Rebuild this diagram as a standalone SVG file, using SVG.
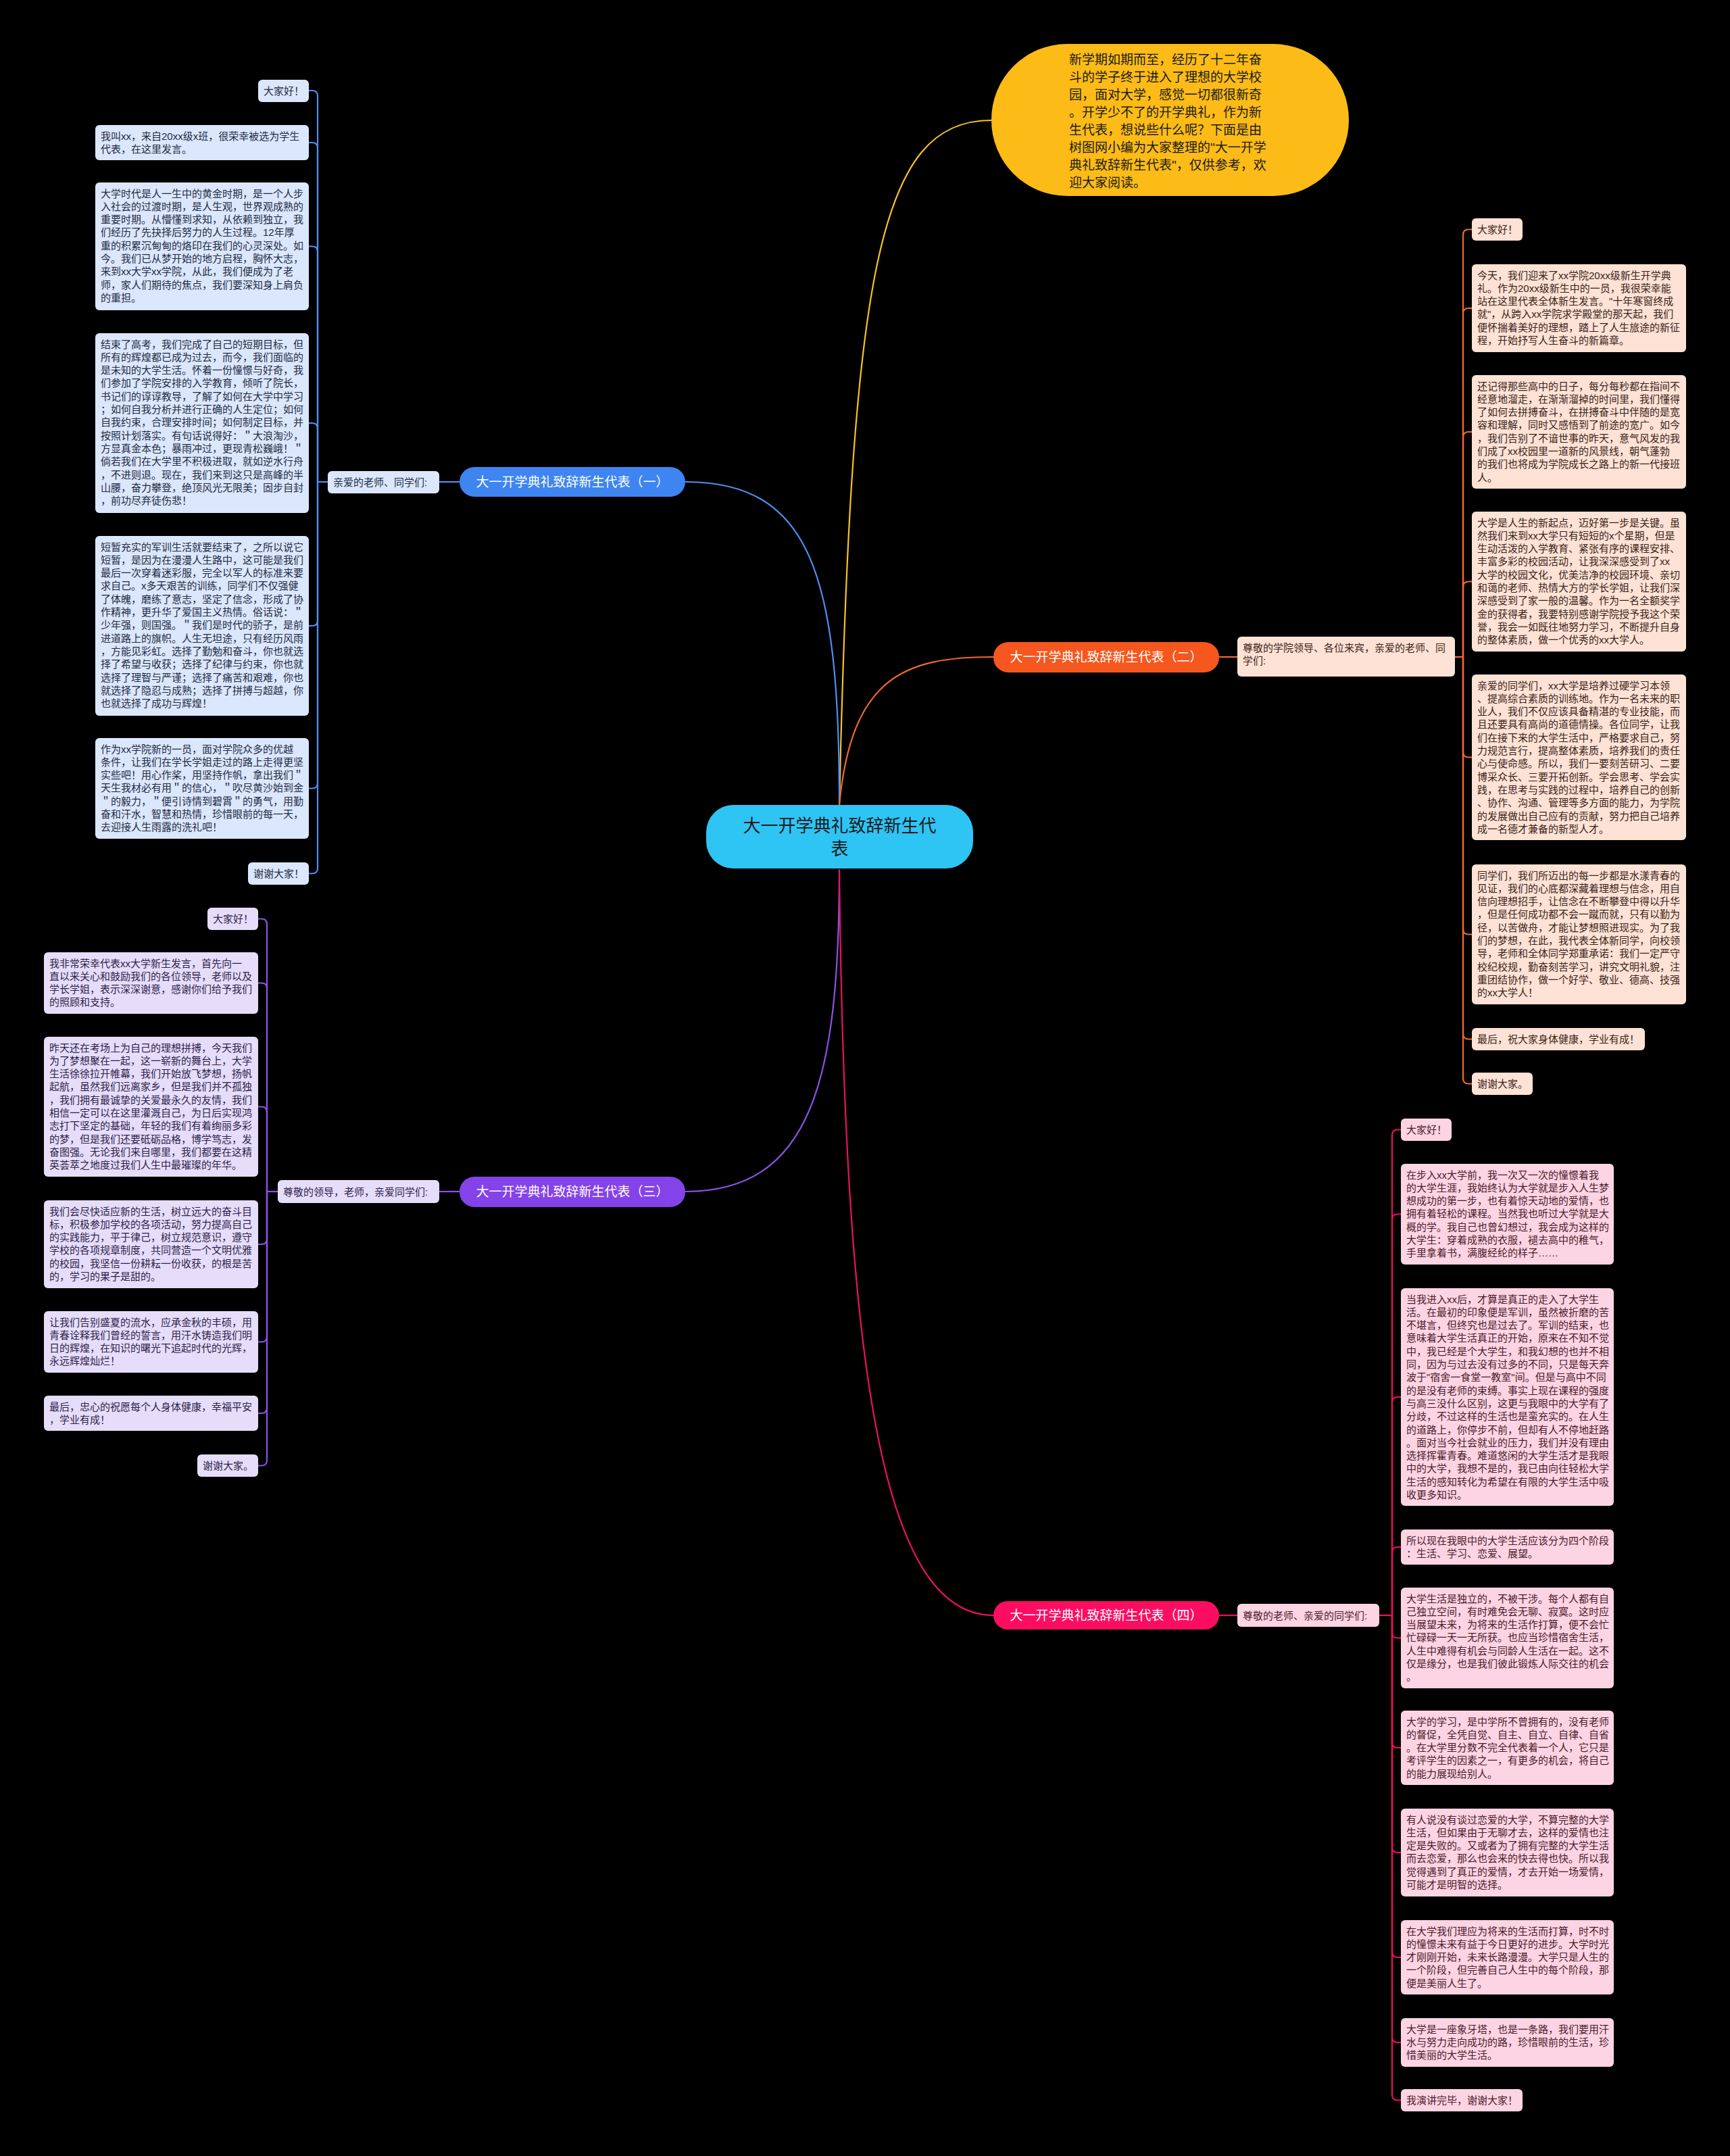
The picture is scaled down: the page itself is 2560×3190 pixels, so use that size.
<svg xmlns="http://www.w3.org/2000/svg" width="2560" height="3190" viewBox="0 0 2560 3190">
<style>
text{font-family:"Liberation Sans","Noto Sans CJK SC",sans-serif;}
.t{font-size:15px;}
.br{font-size:19px;fill:#ffffff;}
.lb{fill:#DBE7FC}.tb{fill:#1E2A44}
.lo{fill:#FDE2D5}.to{fill:#3A2218}
.lp{fill:#E6DDFA}.tp{fill:#2D1F4A}
.lk{fill:#FDD4E3}.tk{fill:#4A1A2A}
.cb{fill:none;stroke:#4F8EF0;stroke-width:2.2}
.co{fill:none;stroke:#F06A2A;stroke-width:2.2}
.cp{fill:none;stroke:#8A52E6;stroke-width:2.2}
.ck{fill:none;stroke:#E8125E;stroke-width:2.2}
.cy{fill:none;stroke:#F7C325;stroke-width:2.2}
</style>
<rect x="0" y="0" width="2560" height="3190" fill="#000000"/>

<g id="connectors">
<path class="cy" d="M1242 1191 C1260 400,1300 178,1467 178"/>
<path class="cb" d="M1242 1191 C1242 850,1200 713,1014 713"/>
<path class="co" d="M1242 1191 C1260 1000,1340 972,1470 972"/>
<path class="cp" d="M1242 1286 C1242 1600,1200 1763,1014 1763"/>
<path class="ck" d="M1242 1286 C1250 2000,1300 2390,1470 2390"/>
<path class="cb" d="M680 713 H650"/>
<path class="co" d="M1804 972 H1831"/>
<path class="cp" d="M680 1763 H650"/>
<path class="ck" d="M1804 2390 H1831"/>
<!-- branch 1 bracket -->
<path class="cb" d="M485 713 H470"/>
<path class="cb" d="M470 713 V142 Q470 134 462 134 H457"/>
<path class="cb" d="M470 713 V219 Q470 211 462 211 H457"/>
<path class="cb" d="M470 713 V372.5 Q470 364.5 462 364.5 H457"/>
<path class="cb" d="M470 713 V634 Q470 626 462 626 H457"/>
<path class="cb" d="M470 713 V918 Q470 926 462 926 H457"/>
<path class="cb" d="M470 713 V1158.5 Q470 1166.5 462 1166.5 H457"/>
<path class="cb" d="M470 713 V1284.5 Q470 1292.5 462 1292.5 H457"/>
<!-- branch 3 bracket -->
<path class="cp" d="M411 1763 H395"/>
<path class="cp" d="M395 1763 V1367.5 Q395 1359.5 387 1359.5 H382"/>
<path class="cp" d="M395 1763 V1462.5 Q395 1454.5 387 1454.5 H382"/>
<path class="cp" d="M395 1763 V1645.5 Q395 1637.5 387 1637.5 H382"/>
<path class="cp" d="M395 1763 V1833 Q395 1841 387 1841 H382"/>
<path class="cp" d="M395 1763 V1977.5 Q395 1985.5 387 1985.5 H382"/>
<path class="cp" d="M395 1763 V2083 Q395 2091 387 2091 H382"/>
<path class="cp" d="M395 1763 V2160.5 Q395 2168.5 387 2168.5 H382"/>
<!-- branch 2 bracket -->
<path class="co" d="M2153 972 H2165"/>
<path class="co" d="M2165 972 V347.5 Q2165 339.5 2173 339.5 H2178"/>
<path class="co" d="M2165 972 V464 Q2165 456 2173 456 H2178"/>
<path class="co" d="M2165 972 V647 Q2165 639 2173 639 H2178"/>
<path class="co" d="M2165 972 V868.5 Q2165 860.5 2173 860.5 H2178"/>
<path class="co" d="M2165 972 V1112.5 Q2165 1120.5 2173 1120.5 H2178"/>
<path class="co" d="M2165 972 V1374.5 Q2165 1382.5 2173 1382.5 H2178"/>
<path class="co" d="M2165 972 V1529.5 Q2165 1537.5 2173 1537.5 H2178"/>
<path class="co" d="M2165 972 V1595.5 Q2165 1603.5 2173 1603.5 H2178"/>
<!-- branch 4 bracket -->
<path class="ck" d="M2041 2390 H2060"/>
<path class="ck" d="M2060 2390 V1679.5 Q2060 1671.5 2068 1671.5 H2073"/>
<path class="ck" d="M2060 2390 V1804.5 Q2060 1796.5 2068 1796.5 H2073"/>
<path class="ck" d="M2060 2390 V2075 Q2060 2067 2068 2067 H2073"/>
<path class="ck" d="M2060 2390 V2297 Q2060 2289 2068 2289 H2073"/>
<path class="ck" d="M2060 2390 V2415.5 Q2060 2423.5 2068 2423.5 H2073"/>
<path class="ck" d="M2060 2390 V2578 Q2060 2586 2068 2586 H2073"/>
<path class="ck" d="M2060 2390 V2733 Q2060 2741 2068 2741 H2073"/>
<path class="ck" d="M2060 2390 V2888 Q2060 2896 2068 2896 H2073"/>
<path class="ck" d="M2060 2390 V3014 Q2060 3022 2068 3022 H2073"/>
<path class="ck" d="M2060 2390 V3099.5 Q2060 3107.5 2068 3107.5 H2073"/>
</g>

<g id="center">
<rect x="1045" y="1191" width="395" height="94" rx="40" fill="#2EC4F4"/>
<text x="1242.5" y="1231" font-size="26" fill="#1A1A1A" text-anchor="middle">大一开学典礼致辞新生代<tspan x="1242.5" dy="34">表</tspan></text>
</g>

<g id="intro">
<rect x="1467" y="65" width="529" height="225" rx="112" fill="#FCBB16"/>
<text x="1582" y="95" font-size="19" fill="#1A1A1A">新学期如期而至，经历了十二年奋<tspan x="1582" dy="26">斗的学子终于进入了理想的大学校</tspan><tspan x="1582" dy="26">园，面对大学，感觉一切都很新奇</tspan><tspan x="1582" dy="26">。开学少不了的开学典礼，作为新</tspan><tspan x="1582" dy="26">生代表，想说些什么呢？下面是由</tspan><tspan x="1582" dy="26">树图网小编为大家整理的"大一开学</tspan><tspan x="1582" dy="26">典礼致辞新生代表"，仅供参考，欢</tspan><tspan x="1582" dy="26">迎大家阅读。</tspan></text>
</g>

<g id="branch1">
<rect x="680" y="691" width="334" height="44" rx="22" fill="#3E85F2"/>
<text class="br" x="847" y="720" text-anchor="middle">大一开学典礼致辞新生代表（一）</text>
</g>
<g id="branch1-label">
<rect class="lb" x="485" y="697" width="165" height="33" rx="6"/>
<text class="t tb" x="493" y="718.5">亲爱的老师、同学们:</text>
</g>
<g id="b1-n1"><rect class="lb" x="382" y="118" width="75" height="33" rx="6"/><text class="t tb" x="390" y="139.5">大家好！</text></g>
<g id="b1-n2"><rect class="lb" x="141" y="185" width="316" height="52" rx="6"/><text class="t tb" x="149" y="206.5">我叫xx，来自20xx级x班，很荣幸被选为学生<tspan x="149" dy="19.3">代表，在这里发言。</tspan></text></g>
<g id="b1-n3"><rect class="lb" x="141" y="270" width="316" height="189" rx="6"/><text class="t tb" x="149" y="291.5">大学时代是人一生中的黄金时期，是一个人步<tspan x="149" dy="19.3">入社会的过渡时期，是人生观，世界观成熟的</tspan><tspan x="149" dy="19.3">重要时期。从懵懂到求知，从依赖到独立，我</tspan><tspan x="149" dy="19.3">们经历了先抉择后努力的人生过程。12年厚</tspan><tspan x="149" dy="19.3">重的积累沉甸甸的烙印在我们的心灵深处。如</tspan><tspan x="149" dy="19.3">今。我们已从梦开始的地方启程，胸怀大志，</tspan><tspan x="149" dy="19.3">来到xx大学xx学院，从此，我们便成为了老</tspan><tspan x="149" dy="19.3">师，家人们期待的焦点，我们要深知身上肩负</tspan><tspan x="149" dy="19.3">的重担。</tspan></text></g>
<g id="b1-n4"><rect class="lb" x="141" y="493" width="316" height="266" rx="6"/><text class="t tb" x="149" y="514.5">结束了高考，我们完成了自己的短期目标，但<tspan x="149" dy="19.3">所有的辉煌都已成为过去，而今，我们面临的</tspan><tspan x="149" dy="19.3">是未知的大学生活。怀着一份憧憬与好奇，我</tspan><tspan x="149" dy="19.3">们参加了学院安排的入学教育，倾听了院长，</tspan><tspan x="149" dy="19.3">书记们的谆谆教导，了解了如何在大学中学习</tspan><tspan x="149" dy="19.3">；如何自我分析并进行正确的人生定位；如何</tspan><tspan x="149" dy="19.3">自我约束，合理安排时间；如何制定目标，并</tspan><tspan x="149" dy="19.3">按照计划落实。有句话说得好：＂大浪淘沙，</tspan><tspan x="149" dy="19.3">方显真金本色；暴雨冲过，更现青松巍峨！＂</tspan><tspan x="149" dy="19.3">倘若我们在大学里不积极进取，就如逆水行舟</tspan><tspan x="149" dy="19.3">，不进则退。现在，我们来到这只是高峰的半</tspan><tspan x="149" dy="19.3">山腰，奋力攀登，绝顶风光无限美；固步自封</tspan><tspan x="149" dy="19.3">，前功尽弃徒伤悲！</tspan></text></g>
<g id="b1-n5"><rect class="lb" x="141" y="793" width="316" height="266" rx="6"/><text class="t tb" x="149" y="814.5">短暂充实的军训生活就要结束了，之所以说它<tspan x="149" dy="19.3">短暂，是因为在漫漫人生路中，这可能是我们</tspan><tspan x="149" dy="19.3">最后一次穿着迷彩服，完全以军人的标准来要</tspan><tspan x="149" dy="19.3">求自己。x多天艰苦的训练，同学们不仅强健</tspan><tspan x="149" dy="19.3">了体魄，磨练了意志，坚定了信念，形成了协</tspan><tspan x="149" dy="19.3">作精神，更升华了爱国主义热情。俗话说：＂</tspan><tspan x="149" dy="19.3">少年强，则国强。＂我们是时代的骄子，是前</tspan><tspan x="149" dy="19.3">进道路上的旗帜。人生无坦途，只有经历风雨</tspan><tspan x="149" dy="19.3">，方能见彩虹。选择了勤勉和奋斗，你也就选</tspan><tspan x="149" dy="19.3">择了希望与收获；选择了纪律与约束，你也就</tspan><tspan x="149" dy="19.3">选择了理智与严谨；选择了痛苦和艰难，你也</tspan><tspan x="149" dy="19.3">就选择了隐忍与成熟；选择了拼搏与超越，你</tspan><tspan x="149" dy="19.3">也就选择了成功与辉煌！</tspan></text></g>
<g id="b1-n6"><rect class="lb" x="141" y="1092" width="316" height="149" rx="6"/><text class="t tb" x="149" y="1113.5">作为xx学院新的一员，面对学院众多的优越<tspan x="149" dy="19.3">条件，让我们在学长学姐走过的路上走得更坚</tspan><tspan x="149" dy="19.3">实些吧！用心作桨，用坚持作帆，拿出我们＂</tspan><tspan x="149" dy="19.3">天生我材必有用＂的信心，＂吹尽黄沙始到金</tspan><tspan x="149" dy="19.3">＂的毅力，＂便引诗情到碧霄＂的勇气，用勤</tspan><tspan x="149" dy="19.3">奋和汗水，智慧和热情，珍惜眼前的每一天，</tspan><tspan x="149" dy="19.3">去迎接人生雨露的洗礼吧！</tspan></text></g>
<g id="b1-n7"><rect class="lb" x="367" y="1276" width="90" height="33" rx="6"/><text class="t tb" x="375" y="1297.5">谢谢大家！</text></g>

<g id="branch2">
<rect x="1470" y="950" width="334" height="45" rx="22" fill="#F5571E"/>
<text class="br" x="1637" y="979" text-anchor="middle">大一开学典礼致辞新生代表（二）</text>
</g>
<g id="branch2-label">
<rect class="lo" x="1831" y="942" width="322" height="59" rx="6"/>
<text class="t to" x="1839" y="963.5">尊敬的学院领导、各位来宾，亲爱的老师、同<tspan x="1839" dy="19.3">学们:</tspan></text>
</g>
<g id="b2-n1"><rect class="lo" x="2178" y="323" width="75" height="33" rx="6"/><text class="t to" x="2186" y="344.5">大家好！</text></g>
<g id="b2-n2"><rect class="lo" x="2178" y="391" width="317" height="130" rx="6"/><text class="t to" x="2186" y="412.5">今天，我们迎来了xx学院20xx级新生开学典<tspan x="2186" dy="19.3">礼。作为20xx级新生中的一员，我很荣幸能</tspan><tspan x="2186" dy="19.3">站在这里代表全体新生发言。"十年寒窗终成</tspan><tspan x="2186" dy="19.3">就"，从跨入xx学院求学殿堂的那天起，我们</tspan><tspan x="2186" dy="19.3">便怀揣着美好的理想，踏上了人生旅途的新征</tspan><tspan x="2186" dy="19.3">程，开始抒写人生奋斗的新篇章。</tspan></text></g>
<g id="b2-n3"><rect class="lo" x="2178" y="555" width="317" height="168" rx="6"/><text class="t to" x="2186" y="576.5">还记得那些高中的日子，每分每秒都在指间不<tspan x="2186" dy="19.3">经意地溜走，在渐渐溜掉的时间里，我们懂得</tspan><tspan x="2186" dy="19.3">了如何去拼搏奋斗，在拼搏奋斗中伴随的是宽</tspan><tspan x="2186" dy="19.3">容和理解，同时又感悟到了前途的宽广。如今</tspan><tspan x="2186" dy="19.3">，我们告别了不谙世事的昨天，意气风发的我</tspan><tspan x="2186" dy="19.3">们成了xx校园里一道新的风景线，朝气蓬勃</tspan><tspan x="2186" dy="19.3">的我们也将成为学院成长之路上的新一代接班</tspan><tspan x="2186" dy="19.3">人。</tspan></text></g>
<g id="b2-n4"><rect class="lo" x="2178" y="757" width="317" height="207" rx="6"/><text class="t to" x="2186" y="778.5">大学是人生的新起点，迈好第一步是关键。虽<tspan x="2186" dy="19.3">然我们来到xx大学只有短短的x个星期，但是</tspan><tspan x="2186" dy="19.3">生动活泼的入学教育、紧张有序的课程安排、</tspan><tspan x="2186" dy="19.3">丰富多彩的校园活动，让我深深感受到了xx</tspan><tspan x="2186" dy="19.3">大学的校园文化，优美洁净的校园环境、亲切</tspan><tspan x="2186" dy="19.3">和蔼的老师、热情大方的学长学姐，让我们深</tspan><tspan x="2186" dy="19.3">深感受到了家一般的温馨。作为一名全额奖学</tspan><tspan x="2186" dy="19.3">金的获得者，我要特别感谢学院授予我这个荣</tspan><tspan x="2186" dy="19.3">誉，我会一如既往地努力学习，不断提升自身</tspan><tspan x="2186" dy="19.3">的整体素质，做一个优秀的xx大学人。</tspan></text></g>
<g id="b2-n5"><rect class="lo" x="2178" y="998" width="317" height="245" rx="6"/><text class="t to" x="2186" y="1019.5">亲爱的同学们，xx大学是培养过硬学习本领<tspan x="2186" dy="19.3">、提高综合素质的训练地。作为一名未来的职</tspan><tspan x="2186" dy="19.3">业人，我们不仅应该具备精湛的专业技能，而</tspan><tspan x="2186" dy="19.3">且还要具有高尚的道德情操。各位同学，让我</tspan><tspan x="2186" dy="19.3">们在接下来的大学生活中，严格要求自己，努</tspan><tspan x="2186" dy="19.3">力规范言行，提高整体素质，培养我们的责任</tspan><tspan x="2186" dy="19.3">心与使命感。所以，我们一要刻苦研习、二要</tspan><tspan x="2186" dy="19.3">博采众长、三要开拓创新。学会思考、学会实</tspan><tspan x="2186" dy="19.3">践，在思考与实践的过程中，培养自己的创新</tspan><tspan x="2186" dy="19.3">、协作、沟通、管理等多方面的能力，为学院</tspan><tspan x="2186" dy="19.3">的发展做出自己应有的贡献，努力把自己培养</tspan><tspan x="2186" dy="19.3">成一名德才兼备的新型人才。</tspan></text></g>
<g id="b2-n6"><rect class="lo" x="2178" y="1279" width="317" height="207" rx="6"/><text class="t to" x="2186" y="1300.5">同学们，我们所迈出的每一步都是水漾青春的<tspan x="2186" dy="19.3">见证，我们的心底都深藏着理想与信念，用自</tspan><tspan x="2186" dy="19.3">信向理想招手，让信念在不断攀登中得以升华</tspan><tspan x="2186" dy="19.3">，但是任何成功都不会一蹴而就，只有以勤为</tspan><tspan x="2186" dy="19.3">径，以苦做舟，才能让梦想照进现实。为了我</tspan><tspan x="2186" dy="19.3">们的梦想，在此，我代表全体新同学，向校领</tspan><tspan x="2186" dy="19.3">导，老师和全体同学郑重承诺：我们一定严守</tspan><tspan x="2186" dy="19.3">校纪校规，勤奋刻苦学习，讲究文明礼貌，注</tspan><tspan x="2186" dy="19.3">重团结协作，做一个好学、敬业、德高、技强</tspan><tspan x="2186" dy="19.3">的xx大学人！</tspan></text></g>
<g id="b2-n7"><rect class="lo" x="2178" y="1521" width="256" height="33" rx="6"/><text class="t to" x="2186" y="1542.5">最后，祝大家身体健康，学业有成！</text></g>
<g id="b2-n8"><rect class="lo" x="2178" y="1587" width="90" height="33" rx="6"/><text class="t to" x="2186" y="1608.5">谢谢大家。</text></g>

<g id="branch3">
<rect x="680" y="1741" width="334" height="45" rx="22" fill="#8443E8"/>
<text class="br" x="847" y="1770" text-anchor="middle">大一开学典礼致辞新生代表（三）</text>
</g>
<g id="branch3-label">
<rect class="lp" x="411" y="1746" width="239" height="34" rx="6"/>
<text class="t tp" x="419" y="1768.5">尊敬的领导，老师，亲爱同学们:</text>
</g>
<g id="b3-n1"><rect class="lp" x="307" y="1343" width="75" height="33" rx="6"/><text class="t tp" x="315" y="1364.5">大家好！</text></g>
<g id="b3-n2"><rect class="lp" x="65" y="1409" width="317" height="91" rx="6"/><text class="t tp" x="73" y="1430.5">我非常荣幸代表xx大学新生发言，首先向一<tspan x="73" dy="19.3">直以来关心和鼓励我们的各位领导，老师以及</tspan><tspan x="73" dy="19.3">学长学姐，表示深深谢意，感谢你们给予我们</tspan><tspan x="73" dy="19.3">的照顾和支持。</tspan></text></g>
<g id="b3-n3"><rect class="lp" x="65" y="1534" width="317" height="207" rx="6"/><text class="t tp" x="73" y="1555.5">昨天还在考场上为自己的理想拼搏，今天我们<tspan x="73" dy="19.3">为了梦想聚在一起，这一崭新的舞台上，大学</tspan><tspan x="73" dy="19.3">生活徐徐拉开帷幕，我们开始放飞梦想，扬帆</tspan><tspan x="73" dy="19.3">起航，虽然我们远离家乡，但是我们并不孤独</tspan><tspan x="73" dy="19.3">，我们拥有最诚挚的关爱最永久的友情，我们</tspan><tspan x="73" dy="19.3">相信一定可以在这里灌溉自己，为日后实现鸿</tspan><tspan x="73" dy="19.3">志打下坚定的基础，年轻的我们有着绚丽多彩</tspan><tspan x="73" dy="19.3">的梦，但是我们还要砥砺品格，博学笃志，发</tspan><tspan x="73" dy="19.3">奋图强。无论我们来自哪里，我们都要在这精</tspan><tspan x="73" dy="19.3">英荟萃之地度过我们人生中最璀璨的年华。</tspan></text></g>
<g id="b3-n4"><rect class="lp" x="65" y="1776" width="317" height="130" rx="6"/><text class="t tp" x="73" y="1797.5">我们会尽快适应新的生活，树立远大的奋斗目<tspan x="73" dy="19.3">标，积极参加学校的各项活动，努力提高自己</tspan><tspan x="73" dy="19.3">的实践能力，平于律己，树立规范意识，遵守</tspan><tspan x="73" dy="19.3">学校的各项规章制度，共同营造一个文明优雅</tspan><tspan x="73" dy="19.3">的校园，我坚信一份耕耘一份收获，的根是苦</tspan><tspan x="73" dy="19.3">的，学习的果子是甜的。</tspan></text></g>
<g id="b3-n5"><rect class="lp" x="65" y="1940" width="317" height="91" rx="6"/><text class="t tp" x="73" y="1961.5">让我们告别盛夏的流水，应承金秋的丰硕，用<tspan x="73" dy="19.3">青春诠释我们曾经的誓言，用汗水铸造我们明</tspan><tspan x="73" dy="19.3">日的辉煌，在知识的曙光下追起时代的光辉，</tspan><tspan x="73" dy="19.3">永远辉煌灿烂！</tspan></text></g>
<g id="b3-n6"><rect class="lp" x="65" y="2065" width="317" height="52" rx="6"/><text class="t tp" x="73" y="2086.5">最后，忠心的祝愿每个人身体健康，幸福平安<tspan x="73" dy="19.3">，学业有成！</tspan></text></g>
<g id="b3-n7"><rect class="lp" x="292" y="2152" width="90" height="33" rx="6"/><text class="t tp" x="300" y="2173.5">谢谢大家。</text></g>

<g id="branch4">
<rect x="1470" y="2369" width="334" height="42" rx="21" fill="#FC0D62"/>
<text class="br" x="1637" y="2397" text-anchor="middle">大一开学典礼致辞新生代表（四）</text>
</g>
<g id="branch4-label">
<rect class="lk" x="1831" y="2373" width="210" height="34" rx="6"/>
<text class="t tk" x="1839" y="2395.5">尊敬的老师、亲爱的同学们:</text>
</g>
<g id="b4-n1"><rect class="lk" x="2073" y="1655" width="75" height="33" rx="6"/><text class="t tk" x="2081" y="1676.5">大家好！</text></g>
<g id="b4-n2"><rect class="lk" x="2073" y="1722" width="315" height="149" rx="6"/><text class="t tk" x="2081" y="1743.5">在步入xx大学前，我一次又一次的憧憬着我<tspan x="2081" dy="19.3">的大学生涯，我始终认为大学就是步入人生梦</tspan><tspan x="2081" dy="19.3">想成功的第一步，也有着惊天动地的爱情，也</tspan><tspan x="2081" dy="19.3">拥有着轻松的课程。当然我也听过大学就是大</tspan><tspan x="2081" dy="19.3">概的学。我自己也曾幻想过，我会成为这样的</tspan><tspan x="2081" dy="19.3">大学生：穿着成熟的衣服，褪去高中的稚气，</tspan><tspan x="2081" dy="19.3">手里拿着书，满腹经纶的样子……</tspan></text></g>
<g id="b4-n3"><rect class="lk" x="2073" y="1906" width="315" height="322" rx="6"/><text class="t tk" x="2081" y="1927.5">当我进入xx后，才算是真正的走入了大学生<tspan x="2081" dy="19.3">活。在最初的印象便是军训，虽然被折磨的苦</tspan><tspan x="2081" dy="19.3">不堪言，但终究也是过去了。军训的结束，也</tspan><tspan x="2081" dy="19.3">意味着大学生活真正的开始，原来在不知不觉</tspan><tspan x="2081" dy="19.3">中，我已经是个大学生，和我幻想的也并不相</tspan><tspan x="2081" dy="19.3">同，因为与过去没有过多的不同，只是每天奔</tspan><tspan x="2081" dy="19.3">波于"宿舍一食堂一教室"间。但是与高中不同</tspan><tspan x="2081" dy="19.3">的是没有老师的束缚。事实上现在课程的强度</tspan><tspan x="2081" dy="19.3">与高三没什么区别，这更与我眼中的大学有了</tspan><tspan x="2081" dy="19.3">分歧，不过这样的生活也是蛮充实的。在人生</tspan><tspan x="2081" dy="19.3">的道路上，你停步不前，但却有人不停地赶路</tspan><tspan x="2081" dy="19.3">。面对当今社会就业的压力，我们并没有理由</tspan><tspan x="2081" dy="19.3">选择挥霍青春。难道悠闲的大学生活才是我眼</tspan><tspan x="2081" dy="19.3">中的大学，我想不是的，我已由向往轻松大学</tspan><tspan x="2081" dy="19.3">生活的感知转化为希望在有限的大学生活中吸</tspan><tspan x="2081" dy="19.3">收更多知识。</tspan></text></g>
<g id="b4-n4"><rect class="lk" x="2073" y="2263" width="315" height="52" rx="6"/><text class="t tk" x="2081" y="2284.5">所以现在我眼中的大学生活应该分为四个阶段<tspan x="2081" dy="19.3">：生活、学习、恋爱、展望。</tspan></text></g>
<g id="b4-n5"><rect class="lk" x="2073" y="2349" width="315" height="149" rx="6"/><text class="t tk" x="2081" y="2370.5">大学生活是独立的，不被干涉。每个人都有自<tspan x="2081" dy="19.3">己独立空间，有时难免会无聊、寂寞。这时应</tspan><tspan x="2081" dy="19.3">当展望未来，为将来的生活作打算，便不会忙</tspan><tspan x="2081" dy="19.3">忙碌碌一天一无所获。也应当珍惜宿舍生活，</tspan><tspan x="2081" dy="19.3">人生中难得有机会与同龄人生活在一起。这不</tspan><tspan x="2081" dy="19.3">仅是缘分，也是我们彼此锻炼人际交往的机会</tspan><tspan x="2081" dy="19.3">。</tspan></text></g>
<g id="b4-n6"><rect class="lk" x="2073" y="2531" width="315" height="110" rx="6"/><text class="t tk" x="2081" y="2552.5">大学的学习，是中学所不曾拥有的，没有老师<tspan x="2081" dy="19.3">的督促，全凭自觉、自主、自立、自律、自省</tspan><tspan x="2081" dy="19.3">。在大学里分数不完全代表着一个人，它只是</tspan><tspan x="2081" dy="19.3">考评学生的因素之一，有更多的机会，将自己</tspan><tspan x="2081" dy="19.3">的能力展现给别人。</tspan></text></g>
<g id="b4-n7"><rect class="lk" x="2073" y="2676" width="315" height="130" rx="6"/><text class="t tk" x="2081" y="2697.5">有人说没有谈过恋爱的大学，不算完整的大学<tspan x="2081" dy="19.3">生活，但如果由于无聊才去，这样的爱情也注</tspan><tspan x="2081" dy="19.3">定是失败的。又或者为了拥有完整的大学生活</tspan><tspan x="2081" dy="19.3">而去恋爱，那么也会来的快去得也快。所以我</tspan><tspan x="2081" dy="19.3">觉得遇到了真正的爱情，才去开始一场爱情，</tspan><tspan x="2081" dy="19.3">可能才是明智的选择。</tspan></text></g>
<g id="b4-n8"><rect class="lk" x="2073" y="2841" width="315" height="110" rx="6"/><text class="t tk" x="2081" y="2862.5">在大学我们理应为将来的生活而打算，时不时<tspan x="2081" dy="19.3">的憧憬未来有益于今日更好的进步。大学时光</tspan><tspan x="2081" dy="19.3">才刚刚开始，未来长路漫漫。大学只是人生的</tspan><tspan x="2081" dy="19.3">一个阶段，但完善自己人生中的每个阶段，那</tspan><tspan x="2081" dy="19.3">便是美丽人生了。</tspan></text></g>
<g id="b4-n9"><rect class="lk" x="2073" y="2986" width="315" height="72" rx="6"/><text class="t tk" x="2081" y="3007.5">大学是一座象牙塔，也是一条路，我们要用汗<tspan x="2081" dy="19.3">水与努力走向成功的路，珍惜眼前的生活，珍</tspan><tspan x="2081" dy="19.3">惜美丽的大学生活。</tspan></text></g>
<g id="b4-n10"><rect class="lk" x="2073" y="3091" width="180" height="33" rx="6"/><text class="t tk" x="2081" y="3112.5">我演讲完毕，谢谢大家！</text></g>
</svg>
